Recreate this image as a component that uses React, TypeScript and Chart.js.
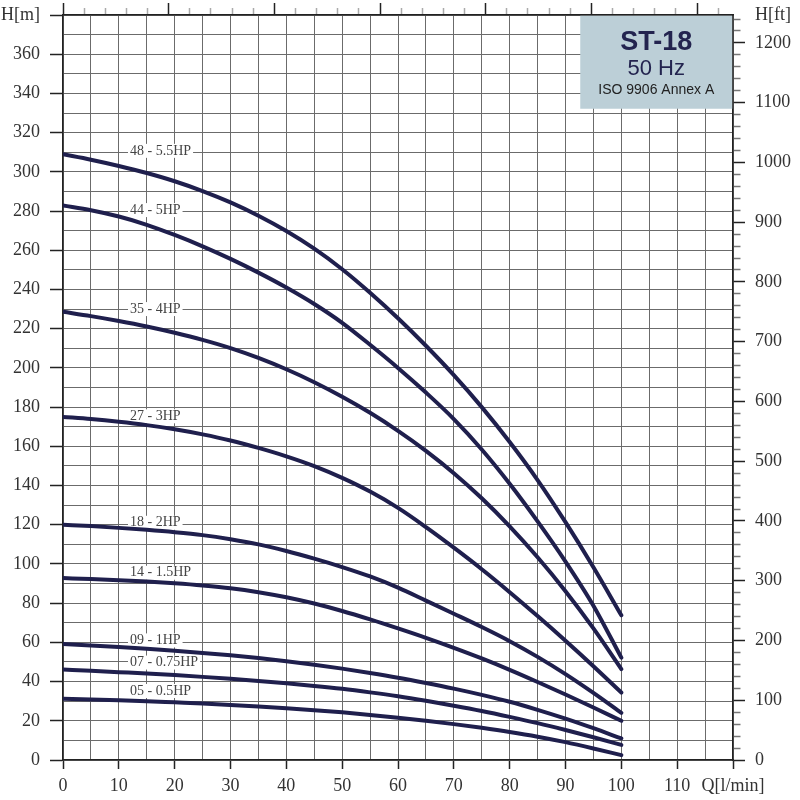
import { Chart, registerables } from "chart.js";
import { useEffect, useRef } from "react";

Chart.register(...registerables);
Chart.defaults.font.family = "'Liberation Serif', 'DejaVu Serif', serif";

const M_TO_FT = 3.28084;
const LPM_PER_GPM = 3.78541;

// flow in l/min, head in m
const flow = [0, 5, 10, 15, 20, 25, 30, 35, 40, 45, 50, 55, 60, 65, 70, 75, 80, 85, 90, 95, 100];

const pumpNames = [
  "48 - 5.5HP",
  "44 - 5HP",
  "35 - 4HP",
  "27 - 3HP",
  "18 - 2HP",
  "14 - 1.5HP",
  "09 - 1HP",
  "07 - 0.75HP",
  "05 - 0.5HP",
];

const head48 = [309, 306.2, 303, 299.4, 295.2, 290.2, 284.4, 277.6, 269.8, 260.8, 250.3, 238.3, 225.3, 211.3, 196.3, 180, 162.2, 142.8, 121.3, 98.3, 73.8];
const head44 = [282.8, 280.4, 277.2, 273, 267.8, 262, 255.6, 248.6, 241, 232.6, 223, 211.8, 200, 187.4, 173.9, 158.4, 140.9, 121.7, 101.2, 78.7, 52.2];
const head35 = [228.6, 226.4, 223.9, 221.1, 217.9, 214.3, 210.1, 205.1, 199.3, 192.7, 185.3, 177.1, 167.9, 157.7, 146.3, 133.5, 119.2, 103.4, 86.1, 67.1, 46.4];
const head27 = [175, 173.9, 172.5, 170.8, 168.7, 166.1, 163, 159.2, 154.9, 149.9, 143.9, 136.9, 128.6, 118.8, 108.3, 97.3, 85.6, 73.4, 60.8, 47.8, 34.4];
const head18 = [120, 119.3, 118.4, 117.4, 116.2, 114.7, 112.6, 110, 106.6, 102.7, 98.4, 93.6, 87.9, 81.3, 74.6, 67.8, 60.6, 52.6, 43.8, 34.2, 24];
const head14 = [92.8, 92.3, 91.7, 91, 90.1, 89, 87.6, 85.6, 83, 79.8, 76, 71.7, 67.1, 62.3, 57.2, 51.8, 46, 39.8, 33.4, 26.8, 20];
const head09 = [59.2, 58.4, 57.6, 56.7, 55.7, 54.6, 53.4, 52, 50.4, 48.6, 46.6, 44.4, 42, 39.3, 36.4, 33.2, 29.7, 25.6, 21.1, 16.2, 11];
const head07 = [46.1, 45.5, 44.8, 44.1, 43.3, 42.4, 41.4, 40.3, 39.1, 37.8, 36.3, 34.5, 32.5, 30.2, 27.7, 25, 22, 18.8, 15.3, 11.6, 7.7];
const head05 = [31.2, 30.9, 30.5, 30, 29.4, 28.8, 28.1, 27.3, 26.4, 25.4, 24.3, 23, 21.6, 20, 18.3, 16.4, 14.3, 11.9, 9.1, 5.9, 2.5];

const heads = [head48, head44, head35, head27, head18, head14, head09, head07, head05];

// where the curve names sit (flow l/min, head m)
const labelFlow = 12;
const labelHeads = [310.7, 280.5, 230, 175.3, 121, 95.5, 61, 49.7, 35.2];

const headTickLabels = [0, 20, 40, 60, 80, 100, 120, 140, 160, 180, 200, 220, 240, 260, 280, 300, 320, 340, 360];
const flowTickLabels = [0, 10, 20, 30, 40, 50, 60, 70, 80, 90, 100, 110];
const feetTickLabels = [0, 100, 200, 300, 400, 500, 600, 700, 800, 900, 1000, 1100, 1200];

const HEAD_MAX = 380;
const FLOW_MAX = 120;

const titleLines = ["ST-18", "50 Hz", "ISO 9906 Annex A"];

const LINE = "#1f1f4d";
const GRID = "#6b6b6b";
const AXIS = "#222";
const TEXT = "#333";

function steps(from: number, to: number, step: number) {
  const out: { value: number }[] = [];
  for (let v = from; v <= to + 1e-9; v += step) out.push({ value: +v.toFixed(4) });
  return out;
}

// fixed axis sizes, no extra label padding pushing the plot area in
function fixSize(size: number, vertical: boolean) {
  return (s: any) => {
    if (vertical) s.width = size;
    else s.height = size;
    s.paddingTop = 0;
    s.paddingBottom = 0;
    s.paddingLeft = 0;
    s.paddingRight = 0;
  };
}

const curveLabels = {
  id: "curveLabels",
  beforeDatasetsDraw(chart: Chart) {
    const { ctx } = chart;
    const xs = chart.scales.x;
    const ys = chart.scales.y;
    ctx.save();
    ctx.font = "14px 'Liberation Serif', serif";
    ctx.textBaseline = "middle";
    ctx.textAlign = "left";
    pumpNames.forEach((name, i) => {
      const x = xs.getPixelForValue(labelFlow);
      const y = ys.getPixelForValue(labelHeads[i]);
      const w = ctx.measureText(name).width;
      ctx.fillStyle = "#fff";
      ctx.fillRect(x - 2, y - 7, w + 4, 14);
      ctx.fillStyle = "#444";
      ctx.fillText(name, x, y);
    });

    // title box
    const { right, top } = chart.chartArea;
    const bw = 152;
    const bh = 93;
    const bx = right - 0.75 - bw;
    const by = top + 0.75;
    ctx.fillStyle = "#bccfd7";
    ctx.fillRect(bx, by, bw, bh);
    const cx = bx + bw / 2;
    ctx.textAlign = "center";
    ctx.textBaseline = "alphabetic";
    ctx.fillStyle = "#23244f";
    ctx.font = "bold 27px 'Liberation Sans', Arial, sans-serif";
    ctx.fillText(titleLines[0], cx, top + 35);
    ctx.font = "22px 'Liberation Sans', Arial, sans-serif";
    ctx.fillText(titleLines[1], cx, top + 60);
    ctx.fillStyle = "#222";
    ctx.font = "14px 'Liberation Sans', Arial, sans-serif";
    ctx.fillText(titleLines[2], cx, top + 79);
    ctx.restore();
  },
};

const tickFont = { size: 18, family: "'Liberation Serif', serif" };

export default function App() {
  const canvasRef = useRef<HTMLCanvasElement>(null);

  useEffect(() => {
    if (!canvasRef.current) return;

    const chart = new Chart(canvasRef.current, {
      type: "line",
      data: {
        datasets: heads.map((h, i) => ({
          label: pumpNames[i],
          data: flow.map((q, j) => ({ x: q, y: h[j] })),
          borderColor: LINE,
          borderWidth: 4,
          borderCapStyle: "round" as const,
          pointRadius: 0,
          cubicInterpolationMode: "monotone" as const,
          fill: false,
        })),
      },
      plugins: [curveLabels],
      options: {
        animation: false,
        responsive: true,
        maintainAspectRatio: false,
        layout: { padding: 0 },
        plugins: {
          legend: { display: false },
          tooltip: { enabled: false },
        },
        scales: {
          x: {
            type: "linear",
            position: "bottom",
            min: 0,
            max: FLOW_MAX,
            afterBuildTicks: (s: any) => {
              s.ticks = steps(0, FLOW_MAX, 5);
            },
            afterFit: fixSize(40, false),
            grid: {
              color: GRID,
              lineWidth: 1,
              tickLength: 9,
              tickWidth: 1.5,
              tickColor: (c: any) => (c.tick && c.tick.value % 10 === 0 ? AXIS : "rgba(0,0,0,0)"),
            },
            border: { color: AXIS, width: 1.5 },
            ticks: {
              autoSkip: false,
              maxRotation: 0,
              padding: 6,
              color: TEXT,
              font: tickFont,
              callback: (v: any) =>
                v === FLOW_MAX ? "Q[l/min]" : flowTickLabels.includes(v) ? String(v) : "",
            },
          },
          xTop: {
            type: "linear",
            position: "top",
            min: 0,
            max: FLOW_MAX / LPM_PER_GPM,
            afterBuildTicks: (s: any) => {
              s.ticks = steps(0, 31, 1);
            },
            afterFit: fixSize(15, false),
            grid: {
              drawOnChartArea: false,
              tickLength: 12,
              tickWidth: 1.5,
              tickColor: (c: any) => (c.tick && c.tick.value % 5 === 0 ? AXIS : "#aaa"),
              tickBorderDash: (c: any) => (c.tick && c.tick.value % 5 === 0 ? [] : [0, 5, 20]),
            },
            border: { color: AXIS, width: 1.5 },
            ticks: { display: false },
          },
          y: {
            type: "linear",
            position: "left",
            min: 0,
            max: HEAD_MAX,
            afterBuildTicks: (s: any) => {
              s.ticks = steps(0, HEAD_MAX, 10);
            },
            afterFit: fixSize(63, true),
            grid: {
              color: GRID,
              lineWidth: 1,
              tickLength: 13,
              tickWidth: 1.5,
              tickColor: (c: any) => (c.tick && c.tick.value % 20 === 0 ? AXIS : "rgba(0,0,0,0)"),
            },
            border: { color: AXIS, width: 1.5 },
            ticks: {
              autoSkip: false,
              padding: 10,
              color: TEXT,
              font: tickFont,
              callback: (v: any) =>
                v === HEAD_MAX ? "H[m]" : headTickLabels.includes(v) ? String(v) : "",
            },
          },
          yFt: {
            type: "linear",
            position: "right",
            min: 0,
            max: HEAD_MAX * M_TO_FT,
            afterBuildTicks: (s: any) => {
              s.ticks = [...steps(0, 1240, 20), { value: HEAD_MAX * M_TO_FT }];
            },
            afterFit: fixSize(67, true),
            grid: {
              drawOnChartArea: false,
              tickLength: 12,
              tickWidth: 1.5,
              tickColor: (c: any) =>
                !c.tick || c.tick.value > 1240 ? "rgba(0,0,0,0)" : c.tick.value % 100 === 0 ? AXIS : "#777",
              tickBorderDash: (c: any) => (c.tick && c.tick.value % 100 === 0 ? [] : [7, 100]),
            },
            border: { color: AXIS, width: 1.5 },
            ticks: {
              autoSkip: false,
              padding: 10,
              color: TEXT,
              font: tickFont,
              callback: (v: any) =>
                v > 1240 ? "H[ft]" : feetTickLabels.includes(v) ? String(v) : "",
            },
          },
        },
      },
    });

    return () => chart.destroy();
  }, []);

  return (
    <div style={{ position: "absolute", left: 0, top: 0, width: 800, height: 800 }}>
      <canvas ref={canvasRef}></canvas>
    </div>
  );
}
